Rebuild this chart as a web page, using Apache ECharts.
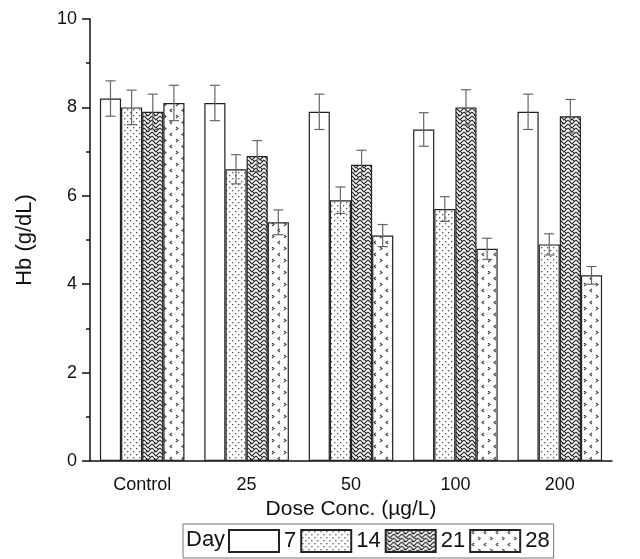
<!DOCTYPE html>
<html>
<head>
<meta charset="utf-8">
<script src="https://cdn.jsdelivr.net/npm/echarts@6/dist/echarts.min.js"></script>
<style>
  html, body { margin: 0; padding: 0; background: #fff; }
  #main { width: 640px; height: 559px; }
</style>
</head>
<body>
<div id="main"></div>
<script>
const categories = ["Control", "25", "50", "100", "200"];
const days = ["7", "14", "21", "28"];
const day7 = [8.2, 8.1, 7.9, 7.5, 7.9];
const day14 = [8.0, 6.6, 5.9, 5.7, 4.9];
const day21 = [7.9, 6.9, 6.7, 8.0, 7.8];
const day28 = [8.1, 5.4, 5.1, 4.8, 4.2];
const err7 = [0.4, 0.4, 0.4, 0.38, 0.4];
const err14 = [0.39, 0.33, 0.3, 0.28, 0.24];
const err21 = [0.4, 0.35, 0.33, 0.4, 0.38];
const err28 = [0.4, 0.28, 0.25, 0.24, 0.2];

const values = [day7, day14, day21, day28];
const errors = [err7, err14, err21, err28];
const catGap = 0.19;

function tile(w, h, draw) {
  const c = document.createElement("canvas");
  c.width = w; c.height = h;
  const ctx = c.getContext("2d");
  ctx.fillStyle = "#fff";
  ctx.fillRect(0, 0, w, h);
  draw(ctx);
  return c;
}

// dotted fill
const dots = tile(6, 6, function (ctx) {
  ctx.fillStyle = "#555";
  ctx.fillRect(1, 1, 1.3, 1.3);
  ctx.fillRect(4, 4, 1.3, 1.3);
});
// herringbone fill
const herring = tile(8, 8, function (ctx) {
  ctx.strokeStyle = "#2a2a2a";
  ctx.lineWidth = 1.2;
  for (let k = -8; k <= 8; k += 4) {
    ctx.beginPath();
    ctx.moveTo(0, k);
    ctx.lineTo(4, k + 4);
    ctx.lineTo(8, k);
    ctx.stroke();
  }
  ctx.beginPath();
  ctx.moveTo(2, 4); ctx.lineTo(3, 3);
  ctx.moveTo(6, 0); ctx.lineTo(5, 1);
  ctx.stroke();
});
// chevron fill
const chevron = tile(12, 12, function (ctx) {
  ctx.strokeStyle = "#444";
  ctx.lineWidth = 1.1;
  ctx.beginPath();
  ctx.moveTo(4, 1); ctx.lineTo(2, 2.5); ctx.lineTo(4, 4);
  ctx.moveTo(8, 7); ctx.lineTo(10, 8.5); ctx.lineTo(8, 10);
  ctx.stroke();
});

const fills = ["#ffffff", { image: dots, repeat: "repeat" }, { image: herring, repeat: "repeat" }, { image: chevron, repeat: "repeat" }];

const chart = echarts.init(document.getElementById("main"));

const barSeries = days.map(function (d, i) {
  return {
    name: d,
    type: "bar",
    data: values[i],
    barGap: "0%",
    barCategoryGap: (catGap * 100) + "%",
    itemStyle: { color: fills[i], borderColor: "#222", borderWidth: 1.2 }
  };
});

const errSeries = days.map(function (d, i) {
  return {
    type: "custom",
    silent: true,
    z: 5,
    data: values[i].map(function (v, j) { return [j, v, errors[i][j]]; }),
    renderItem: function (params, api) {
      const j = api.value(0);
      const v = api.value(1);
      const e = api.value(2);
      const band = api.size([1, 0])[0];
      const bw = band * (1 - catGap) / 4;
      const c = api.coord([j, v]);
      const x = c[0] + (i - 1.5) * bw;
      const yTop = api.coord([j, v + e])[1];
      const yBot = api.coord([j, v - e])[1];
      const cap = 5;
      const st = { stroke: "#666", lineWidth: 1.2 };
      return {
        type: "group",
        children: [
          { type: "line", shape: { x1: x, y1: yTop, x2: x, y2: yBot }, style: st },
          { type: "line", shape: { x1: x - cap, y1: yTop, x2: x + cap, y2: yTop }, style: st },
          { type: "line", shape: { x1: x - cap, y1: yBot, x2: x + cap, y2: yBot }, style: st }
        ]
      };
    }
  };
});

const font = "Liberation Sans";

const option = {
  animation: false,
  textStyle: { fontFamily: font },
  grid: { left: 90, right: 28, top: 19, bottom: 98 },
  legend: {
    data: days,
    left: 183,
    top: 524,
    padding: [5, 4, 5, 45],
    borderColor: "#777",
    borderWidth: 1,
    itemWidth: 50,
    itemHeight: 22,
    itemGap: 4,
    icon: "rect",
    textStyle: { fontSize: 22, color: "#111", fontFamily: font }
  },
  graphic: [{
    type: "text",
    left: 186,
    top: 529,
    style: { text: "Day", fontSize: 22, fill: "#111", fontFamily: font }
  }],
  xAxis: [{
    type: "category",
    data: categories,
    name: "Dose Conc. (µg/L)",
    nameLocation: "middle",
    nameGap: 36,
    nameTextStyle: { fontSize: 21, color: "#111", fontFamily: font },
    axisLine: { lineStyle: { color: "#111", width: 1.5 } },
    axisTick: { alignWithLabel: true, length: 8, lineStyle: { color: "#111", width: 1.5 } },
    axisLabel: { fontSize: 18, color: "#111", margin: 15, fontFamily: font }
  }, {
    type: "category",
    data: categories,
    position: "bottom",
    axisLine: { show: false },
    axisTick: { length: 4, lineStyle: { color: "#111", width: 1.5 } },
    axisLabel: { show: false }
  }],
  yAxis: {
    type: "value",
    min: 0,
    max: 10,
    interval: 2,
    name: "Hb (g/dL)",
    nameLocation: "middle",
    nameGap: 54,
    nameTextStyle: { fontSize: 22, color: "#111", fontFamily: font },
    axisLine: { show: true, lineStyle: { color: "#111", width: 1.5 } },
    axisTick: { show: true, length: 8, lineStyle: { color: "#111", width: 1.5 } },
    minorTick: { show: true, splitNumber: 2, length: 4, lineStyle: { color: "#111", width: 1.5 } },
    splitLine: { show: false },
    axisLabel: { fontSize: 18, color: "#111", margin: 13, fontFamily: font }
  },
  series: barSeries.concat(errSeries)
};

chart.setOption(option);
window.addEventListener("resize", function () { chart.resize(); });
</script>
</body>
</html>
